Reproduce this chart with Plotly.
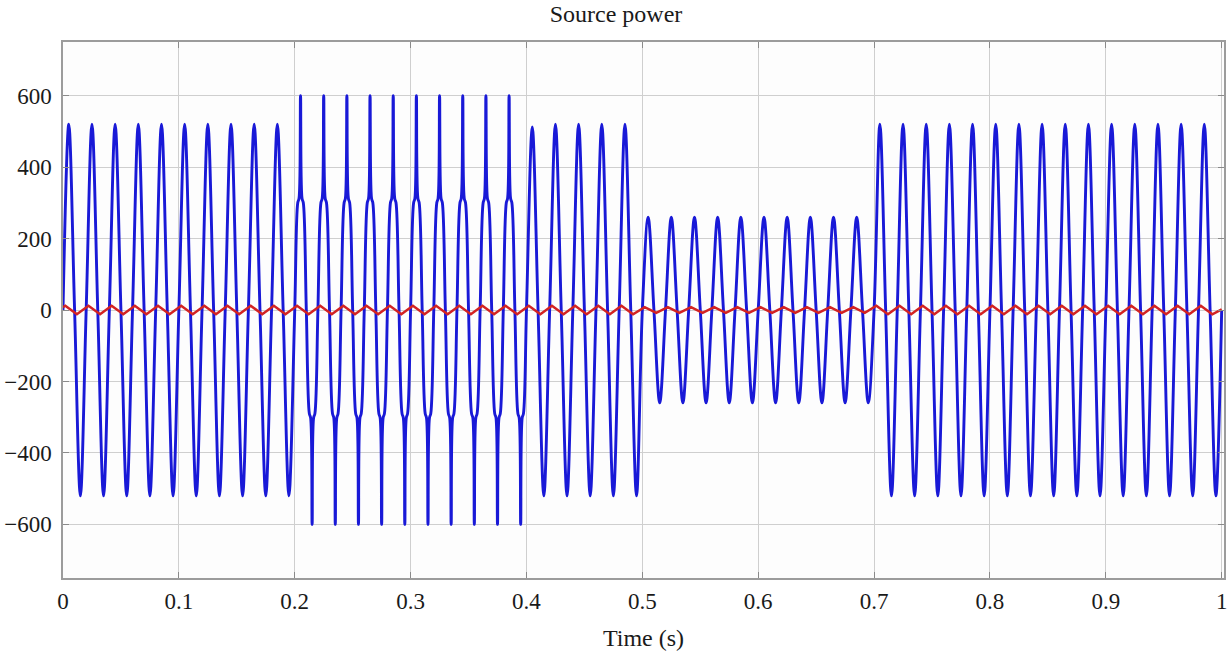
import plotly.graph_objects as go

# ---- data ----
# Blue trace: extreme value of each half cycle (50 Hz -> one half cycle every 0.01 s)
half_cycle_extremes = [
    520, -520, 520, -520, 520, -520, 520, -520, 520, -520,
    520, -520, 520, -520, 520, -520, 520, -520, 520, -520,
    600, -600, 600, -600, 600, -600, 600, -600, 600, -600,
    600, -600, 600, -600, 600, -600, 600, -600, 600, -600,
    512, -520, 520, -520, 520, -520, 520, -520, 520, -520,
    260, -260, 260, -260, 260, -260, 260, -260, 260, -260,
    260, -260, 260, -260, 260, -260, 260, -260, 260, -260,
    520, -520, 520, -520, 520, -520, 520, -520, 520, -520,
    520, -520, 520, -520, 520, -520, 520, -520, 520, -520,
    520, -520, 520, -520, 520, -520, 520, -520, 520, -520,
]
# Shoulder (plateau) level seen on each half cycle, 0 where none
half_cycle_shoulders = [
    0, 0, 0, 0, 0, 0, 0, 0, 0, 0,
    0, 0, 0, 0, 0, 0, 0, 0, 0, 0,
    300, -290, 300, -290, 300, -290, 300, -290, 300, -290,
    300, -290, 300, -290, 300, -290, 300, -290, 300, -290,
    0, 0, 0, 0, 0, 0, 0, 0, 0, 0,
    0, 0, 0, 0, 0, 0, 0, 0, 0, 0,
    0, 0, 0, 0, 0, 0, 0, 0, 0, 0,
    0, 0, 0, 0, 0, 0, 0, 0, 0, 0,
    0, 0, 0, 0, 0, 0, 0, 0, 0, 0,
    0, 0, 0, 0, 0, 0, 0, 0, 0, 0,
]
half_cycle_length = 0.01

# Red trace: turning-point values (one every 0.01 s, starting at 0.002 s)
red_start_value = 8
red_turning_values = [
    12, -12, 12, -12, 12, -12, 12, -12, 12, -12,
    12, -12, 12, -12, 12, -12, 12, -12, 12, -12,
    12, -12, 12, -12, 12, -12, 12, -12, 12, -12,
    12, -12, 12, -12, 12, -12, 12, -12, 12, -12,
    12, -12, 12, -12, 12, -12, 12, -12, 12, -12,
    8, -8, 8, -8, 8, -8, 8, -8, 8, -8,
    8, -8, 8, -8, 8, -8, 8, -8, 8, -8,
    12, -12, 12, -12, 12, -12, 12, -12, 12, -12,
    12, -12, 12, -12, 12, -12, 12, -12, 12, -12,
    12, -12, 12, -12, 12, -12, 12, -12, 12, -12,
]
red_first_turn = 0.002
red_end_value = 2

x_tick_vals = [0, 0.1, 0.2, 0.3, 0.4, 0.5, 0.6, 0.7, 0.8, 0.9, 1]
x_tick_text = ["0", "0.1", "0.2", "0.3", "0.4", "0.5", "0.6", "0.7", "0.8", "0.9", "1"]
y_tick_vals = [-600, -400, -200, 0, 200, 400, 600]

# ---- build traces ----
bx, by = [], []
for i, (ext, sh) in enumerate(zip(half_cycle_extremes, half_cycle_shoulders)):
    t0 = i * half_cycle_length
    bx.append(t0); by.append(0)
    if sh:
        bx += [t0 + 0.0026, t0 + 0.0037, t0 + 0.005, t0 + 0.0063, t0 + 0.0074]
        by += [sh, sh * 1.04, ext, sh * 1.04, sh]
    else:
        bx.append(t0 + 0.005); by.append(ext)
bx.append(len(half_cycle_extremes) * half_cycle_length); by.append(0)

rx = [0] + [red_first_turn + j * half_cycle_length for j in range(len(red_turning_values))] + [1.0]
ry = [red_start_value] + red_turning_values + [red_end_value]

fig = go.Figure()
fig.add_trace(go.Scatter(x=bx, y=by, mode="lines",
                         line=dict(color="rgb(25,25,215)", width=2.9, shape="spline", smoothing=1.0),
                         showlegend=False, hoverinfo="skip"))
fig.add_trace(go.Scatter(x=rx, y=ry, mode="lines",
                         line=dict(color="rgb(210,35,35)", width=2.5),
                         showlegend=False, hoverinfo="skip"))

serif = "Liberation Serif, Times New Roman, serif"
axis_common = dict(showline=True, mirror="ticks", linecolor="#9c9c9c", linewidth=1.5,
                   showgrid=True, gridcolor="#cfcfcf", gridwidth=1,
                   ticks="inside", ticklen=6, tickcolor="#8a8a8a", tickwidth=1,
                   zeroline=False, automargin=False,
                   tickfont=dict(family=serif, size=23, color="#1a1a1a"))

fig.update_layout(
    width=1232, height=655,
    margin=dict(l=63, r=8, t=42, b=77),
    paper_bgcolor="white", plot_bgcolor="#fdfdfd",
    title=dict(text="Source power", x=0.5, xanchor="center", yref="container",
               y=0.979, yanchor="middle",
               font=dict(family=serif, size=24, color="#1a1a1a")),
    xaxis=dict(range=[0, 1.002], tickvals=x_tick_vals, ticktext=x_tick_text,
               title=dict(text="Time (s)", font=dict(family=serif, size=24, color="#1a1a1a"), standoff=16),
               ticklabelstandoff=2, **axis_common),
    yaxis=dict(range=[-750, 750], tickvals=y_tick_vals, ticklabelstandoff=5, **axis_common),
)

fig.write_html("out.html", config={"displayModeBar": False},
               post_script="document.body.style.margin='0';document.body.style.overflow='hidden';")
